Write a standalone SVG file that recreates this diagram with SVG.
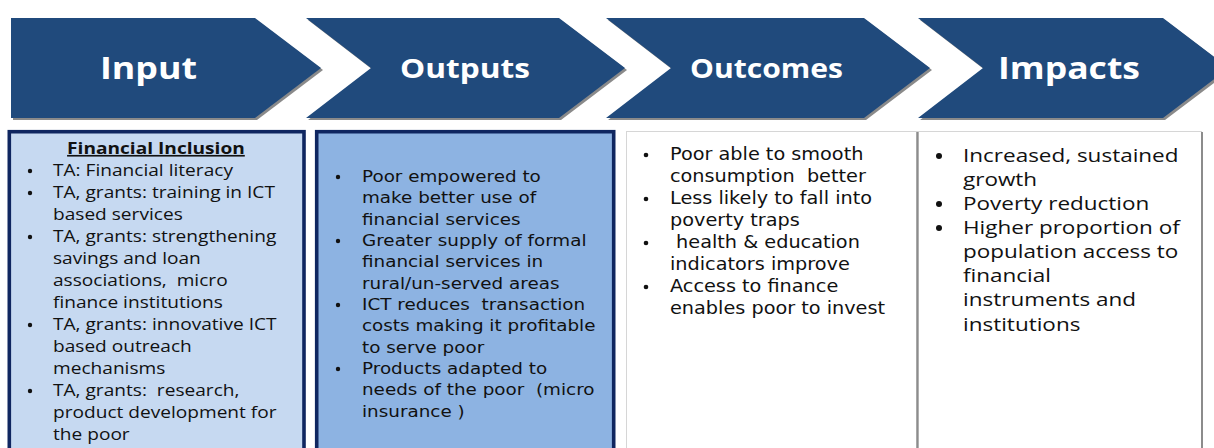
<svg xmlns="http://www.w3.org/2000/svg" width="1214" height="448" viewBox="0 0 1214 448">
<style>
.chev{fill:#204A7C}
.shadow{fill:#8a8a8a}
.head{font-family:"Open Sans","Liberation Sans",sans-serif;font-weight:700;fill:#ffffff;text-anchor:middle}
.t1{font-family:"Open Sans","Liberation Sans",sans-serif;font-size:16.5px;fill:#111}
.t2{font-family:"DejaVu Sans","Liberation Sans",sans-serif;font-size:15.1px;fill:#111}
.t3{font-family:"DejaVu Sans","Liberation Sans",sans-serif;font-size:16.9px;fill:#111}
.t4{font-family:"Open Sans","Liberation Sans",sans-serif;font-size:17.5px;fill:#111}
.dot{fill:#111}
.navy{stroke:#0F2660;stroke-width:3.6}
</style>
<rect width="1214" height="448" fill="#ffffff"/>

<g id="chevron-input">
<polygon class="shadow" transform="translate(2 2)" points="11,18 255,18 321,68 255,118 11,118"/>
<polygon class="chev" points="11,18 255,18 321,68 255,118 11,118"/>
<text class="head" x="148.5" y="79" font-size="30" textLength="97" lengthAdjust="spacingAndGlyphs">Input</text>
</g>
<g id="chevron-outputs">
<polygon class="shadow" transform="translate(2 2)" points="306,18 559,18 625,68 559,118 306,118 371,68"/>
<polygon class="chev" points="306,18 559,18 625,68 559,118 306,118 371,68"/>
<text class="head" x="465" y="78" font-size="27" textLength="130" lengthAdjust="spacingAndGlyphs">Outputs</text>
</g>
<g id="chevron-outcomes">
<polygon class="shadow" transform="translate(2 2)" points="606,18 864,18 930,68 864,118 606,118 671,68"/>
<polygon class="chev" points="606,18 864,18 930,68 864,118 606,118 671,68"/>
<text class="head" x="766.5" y="77.5" font-size="27" textLength="153" lengthAdjust="spacingAndGlyphs">Outcomes</text>
</g>
<g id="chevron-impacts">
<polygon class="shadow" transform="translate(2 2)" points="918,18 1163,18 1229,68 1163,118 918,118 983,68"/>
<polygon class="chev" points="918,18 1163,18 1229,68 1163,118 918,118 983,68"/>
<text class="head" x="1069" y="79" font-size="30" textLength="142" lengthAdjust="spacingAndGlyphs">Impacts</text>
</g>

<g id="connectors"></g>

<g id="box-input">
<rect class="navy" x="9.3" y="131.7" width="294.7" height="340" fill="#C6D9F1"/>
<text class="t1" transform="translate(53 0) scale(1.158 1)" x="88.9" y="154" font-weight="700" text-anchor="middle" text-decoration="underline">Financial Inclusion</text>
<g class="dot">
<circle cx="30" cy="171" r="2.2"/>
<circle cx="30" cy="193" r="2.2"/>
<circle cx="30" cy="237" r="2.2"/>
<circle cx="30" cy="325" r="2.2"/>
<circle cx="30" cy="391" r="2.2"/>
</g>
<g class="t1" transform="translate(53 0) scale(1.158 1)">
<text x="0" y="176">TA: Financial literacy</text>
<text x="0" y="198">TA, grants: training in ICT</text>
<text x="0" y="220">based services</text>
<text x="0" y="242">TA, grants: strengthening</text>
<text x="0" y="264">savings and loan</text>
<text x="0" y="286">associations,&#160; micro</text>
<text x="0" y="308">finance institutions</text>
<text x="0" y="330">TA, grants: innovative ICT</text>
<text x="0" y="352">based outreach</text>
<text x="0" y="374">mechanisms</text>
<text x="0" y="396">TA, grants:&#160; research,</text>
<text x="0" y="418">product development for</text>
<text x="0" y="440">the poor</text>
</g>
</g>

<g id="box-outputs">
<rect class="navy" x="316.7" y="131.7" width="297" height="340" fill="#8DB3E2"/>
<g class="dot">
<circle cx="338" cy="177" r="2.2"/>
<circle cx="338" cy="241" r="2.2"/>
<circle cx="338" cy="305" r="2.2"/>
<circle cx="338" cy="369" r="2.2"/>
</g>
<g class="t2" transform="translate(362 0) scale(1.215 1)">
<text x="0" y="182">Poor empowered to</text>
<text x="0" y="203.3">make better use of</text>
<text x="0" y="224.7">financial services</text>
<text x="0" y="246">Greater supply of formal</text>
<text x="0" y="267.4">financial services in</text>
<text x="0" y="288.7">rural/un-served areas</text>
<text x="0" y="310">ICT reduces&#160; transaction</text>
<text x="0" y="331.4">costs making it profitable</text>
<text x="0" y="352.7">to serve poor</text>
<text x="0" y="374">Products adapted to</text>
<text x="0" y="395.4">needs of the poor&#160; (micro</text>
<text x="0" y="416.7">insurance )</text>
</g>
</g>

<g id="box-outcomes">
<rect x="626.5" y="131.5" width="291" height="340" fill="#ffffff" stroke="#d6d6d6" stroke-width="1"/>
<line x1="917.5" y1="132" x2="917.5" y2="448" stroke="#8c8c8c" stroke-width="2"/>
<g class="dot">
<circle cx="646" cy="155" r="2.3"/>
<circle cx="646" cy="199" r="2.3"/>
<circle cx="646" cy="243" r="2.3"/>
<circle cx="646" cy="287" r="2.3"/>
</g>
<g class="t3" transform="translate(670 0) scale(1.14 1)">
<text x="0" y="160">Poor able to smooth</text>
<text x="0" y="182">consumption&#160; better</text>
<text x="0" y="204">Less likely to fall into</text>
<text x="0" y="226">poverty traps</text>
<text x="0" y="248">&#160;health &amp; education</text>
<text x="0" y="270">indicators improve</text>
<text x="0" y="292">Access to finance</text>
<text x="0" y="314">enables poor to invest</text>
</g>
</g>

<g id="box-impacts">
<rect x="918.5" y="131.5" width="283" height="340" fill="#ffffff" stroke="#d6d6d6" stroke-width="1"/>
<line x1="917.5" y1="132" x2="917.5" y2="448" stroke="#8c8c8c" stroke-width="2"/>
<line x1="1202" y1="132" x2="1202" y2="448" stroke="#8c8c8c" stroke-width="2"/>
<g class="dot">
<circle cx="939" cy="156" r="3"/>
<circle cx="939" cy="204" r="3"/>
<circle cx="939" cy="228" r="3"/>
</g>
<g class="t4" transform="translate(963 0) scale(1.286 1)">
<text x="0" y="162">Increased, sustained</text>
<text x="0" y="186">growth</text>
<text x="0" y="210">Poverty reduction</text>
<text x="0" y="234">Higher proportion of</text>
<text x="0" y="258">population access to</text>
<text x="0" y="282.5">financial</text>
<text x="0" y="306.5">instruments and</text>
<text x="0" y="331">institutions</text>
</g>
</g>
</svg>
